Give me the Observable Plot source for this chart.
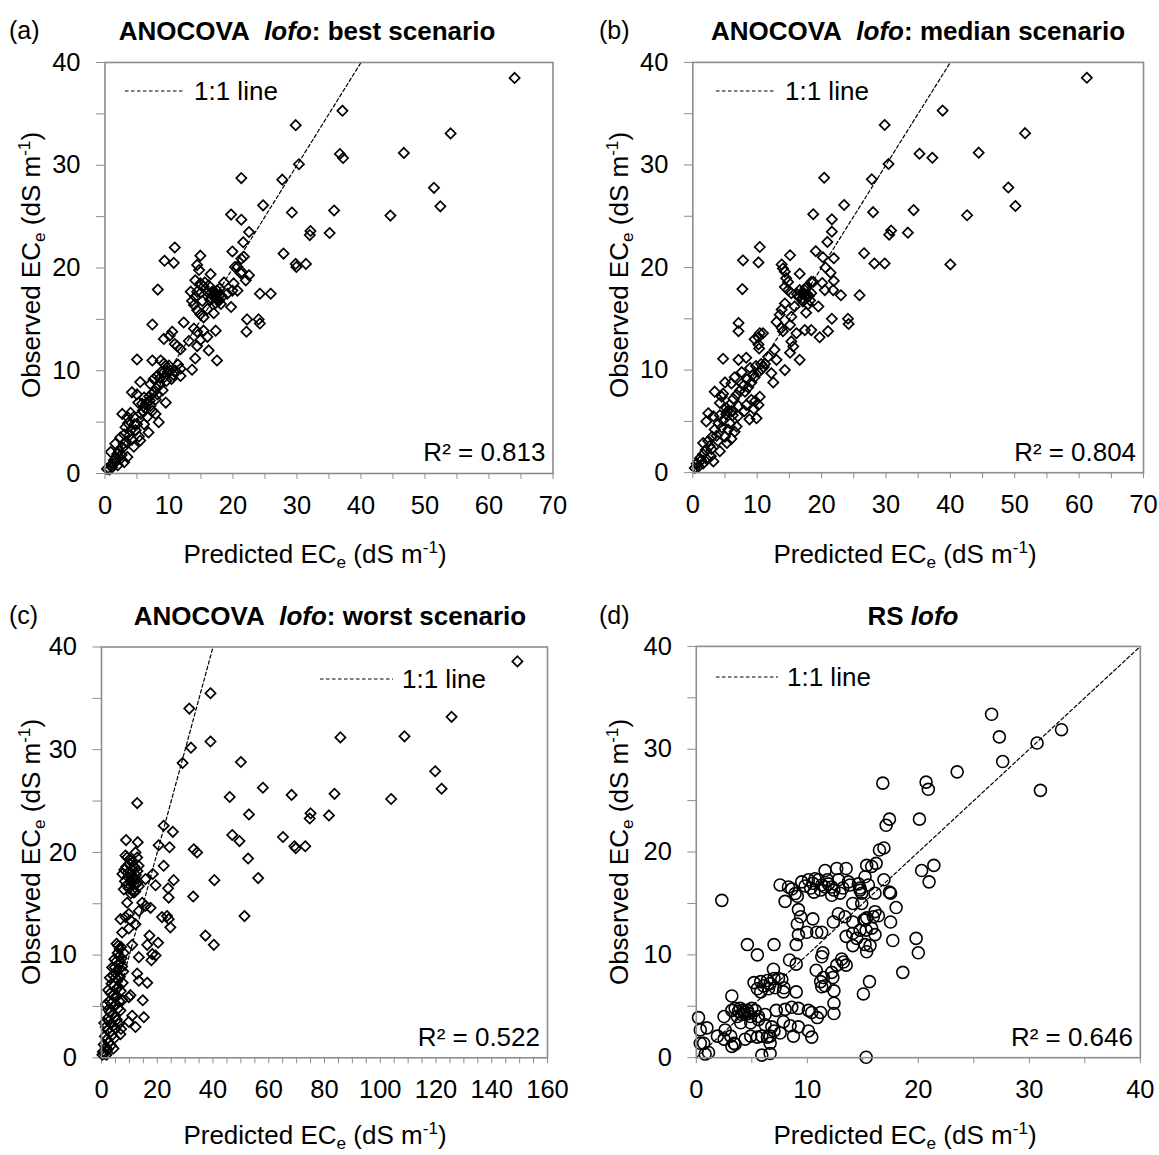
<!DOCTYPE html>
<html>
<head>
<meta charset="utf-8">
<script src="https://cdn.jsdelivr.net/npm/d3@7"></script>
<script src="https://cdn.jsdelivr.net/npm/@observablehq/plot@0.6"></script>
<style>
  body { margin: 0; background: #fff; font-family: "Liberation Sans", Arial, sans-serif; }
  #root { position: relative; width: 1159px; height: 1155px; overflow: hidden; background: #fff; }
  .svgwrap { position: absolute; }
  .txt { position: absolute; white-space: nowrap; color: #000; line-height: 1; }
  .letter { font-size: 25px; transform: translateY(-50%); }
  .ptitle { font-size: 26px; font-weight: bold; transform: translate(-50%, -50%); }
  .xtitle { font-size: 26px; transform: translate(-50%, -50%); }
  .ytitle { font-size: 26px; transform: translate(-50%, -50%) rotate(-90deg); }
  .legend { font-size: 26px; transform: translateY(-50%); display: flex; align-items: center; }
  sub { font-size: 0.66em; vertical-align: -0.3em; line-height: 0; }
  sup { font-size: 0.66em; vertical-align: 0.6em; line-height: 0; }
</style>
</head>
<body>
<div id="root"></div>
<script>
// ---------------- data ----------------
const panelLetters = ["(a)", "(b)", "(c)", "(d)"];
const panelTitles = [
  ["ANOCOVA\u00a0\u00a0", "lofo", ": best scenario"],
  ["ANOCOVA\u00a0\u00a0", "lofo", ": median scenario"],
  ["ANOCOVA\u00a0\u00a0", "lofo", ": worst scenario"],
  ["RS ", "lofo", ""]
];
const r2Labels = ["R² = 0.813", "R² = 0.804", "R² = 0.522", "R² = 0.646"];
const xMaxima = [70, 70, 160, 40];
const xLabelSteps = [10, 10, 20, 10];
const yTickValues = [0, 5, 10, 15, 20, 25, 30, 35, 40];
const oneToOne = [0, 40];

// (a) best scenario: predicted / observed
const aPred = [64.0,37.1,29.8,54.0,46.7,36.7,37.2,30.3,21.3,27.7,51.4,52.4,44.6,24.7,19.7,21.3,29.2,35.8,35.1,32.1,32.0,22.5,21.6,27.9,19.9,10.9,9.3,10.75,29.8,29.9,31.4,21.7,21.3,20.3,20.7,14.9,21.2,22.5,21.4,16.5,18.6,20.1,22.0,24.2,25.9,8.25,14.4,14.7,14.1,14.9,15.4,14.4,17.0,17.5,16.7,17.8,18.3,19.9,20.7,19.1,19.7,13.6,13.9,14.4,14.9,15.4,13.4,14.1,15.97,16.0,17.0,15.2,
  16.8,17.2,17.4,17.1,16.6,17.6,17.3,18.0,16.4,17.9,15.6,15.0,16.2,18.1,
  22.2,24.0,24.2,22.1,7.4,12.3,13.9,14.4,15.4,16.0,17.3,14.9,10.5,10.1,9.2,10.9,11.8,11.3,13.1,14.4,16.2,17.5,14.1,13.6,11.8,11.8,11.4,5.0,7.4,8.7,9.2,9.7,10.2,8.15,7.6,7.1,5.5,4.2,5.0,6.1,6.6,7.1,5.8,7.9,9.0,9.5,8.4,7.9,2.7,3.5,4.5,5.0,6.1,6.8,5.5,4.0,3.2,2.4,1.6,2.9,4.5,1.9,2.4,3.5,1.4,0.9,0.3,1.1,0.9,4.8,5.3,6.6,7.4,
  8.5,9.3,9.8,8.8,10.0,9.6,8.0,7.6,6.9,6.3,5.9,5.6,6.4,7.0,8.2,10.4,10.7,9.1,8.6,3.8,3.3,2.8,2.2,2.6,1.8,1.2,1.6,0.7,2.0,3.0,3.0,4.2,4.6,3.6,4.0,5.2,6.0,7.3,11.0];
const aObs = [38.5,35.3,33.9,33.1,31.2,31.1,30.7,30.1,28.75,28.6,27.8,26.0,25.1,26.1,25.2,24.7,25.4,25.6,23.4,23.6,23.2,23.5,22.5,21.4,21.6,22.0,20.7,20.5,20.4,20.1,20.4,21.1,20.9,20.1,20.1,21.2,19.5,19.3,19.6,19.4,18.6,18.5,18.8,17.5,17.5,17.9,20.3,19.8,18.8,18.5,18.2,17.7,17.5,17.8,17.0,16.8,17.2,17.8,17.8,17.5,16.2,16.8,16.4,15.9,15.5,15.2,17.7,17.2,17.7,16.0,15.6,16.8,
  17.3,17.1,17.4,17.7,17.6,17.0,16.6,17.4,16.9,18.0,18.6,17.6,18.3,16.5,
  15.0,15.0,14.6,13.8,14.5,14.7,14.1,13.8,13.9,13.3,13.9,13.0,13.8,13.4,13.1,12.6,12.1,12.4,12.9,12.4,11.98,11.0,11.2,10.1,10.2,9.5,10.6,11.1,11.0,11.0,10.7,10.3,10.0,9.5,9.2,8.7,8.9,7.9,7.7,7.4,6.9,6.6,6.8,7.2,8.1,6.9,5.0,5.8,5.8,5.5,5.5,4.8,4.8,4.0,3.2,4.2,4.5,3.5,2.9,2.9,2.6,1.9,1.4,1.6,1.3,0.8,0.45,0.6,2.1,4.2,3.6,5.5,6.1,
  8.6,9.4,9.9,9.9,10.5,9.0,8.3,7.9,7.5,6.4,6.1,5.8,6.8,7.1,7.7,9.2,9.6,9.8,9.3,3.7,3.1,2.5,2.2,1.8,1.5,0.9,1.1,0.4,0.8,1.1,3.8,3.3,4.8,4.9,5.9,6.9,6.0,7.7,10.0];

// (b) median scenario
const bPred = [61.2,38.8,29.8,51.6,44.4,35.2,37.2,30.4,20.4,27.8,49.0,50.1,42.6,23.5,18.7,21.6,28.0,34.3,33.4,30.8,30.5,21.6,20.9,26.6,19.1,10.4,7.8,10.2,28.2,29.8,40.0,20.2,21.9,20.6,15.1,21.4,21.9,16.6,18.4,20.1,23.0,25.9,7.7,13.8,14.0,14.3,14.5,14.8,14.3,14.8,15.3,16.9,17.6,17.4,18.2,18.7,20.5,21.8,19.5,17.6,15.8,14.3,13.8,13.5,13.0,15.3,15.1,
  17.0,17.3,17.8,16.6,18.0,17.1,17.9,16.5,18.4,17.5,16.2,
  17.4,18.4,19.7,21.0,21.6,24.1,24.2,7.1,7.1,13.8,14.0,16.1,15.3,15.6,15.1,16.6,14.3,12.7,13.0,10.2,9.6,10.4,10.9,10.2,10.3,11.7,11.2,10.7,10.2,9.6,9.1,8.6,8.1,12.5,12.2,4.7,7.1,8.3,8.9,7.6,6.5,5.0,6.0,7.6,3.4,4.5,4.7,4.2,5.2,6.0,7.1,8.3,9.1,10.2,9.9,8.8,10.4,2.4,2.1,3.2,4.2,4.7,5.8,6.5,6.0,5.0,3.4,3.9,4.2,2.4,1.6,2.9,1.6,1.1,0.6,0.3,1.6,3.2,
  9.8,10.6,11.0,9.4,8.4,7.9,7.3,6.8,6.3,5.7,5.4,5.2,6.2,7.0,5.5,4.5,3.7,3.0,2.6,2.0,1.3,0.9,2.2,2.8,8.0,9.5,9.7,6.8,5.3,4.0];
const bObs = [38.5,35.3,33.9,33.1,31.2,31.1,30.7,30.1,28.75,28.6,27.8,26.0,25.1,26.1,25.2,24.7,25.4,25.6,23.4,23.6,23.2,23.5,22.5,21.4,21.6,22.0,20.7,20.5,20.4,20.4,20.3,21.0,20.9,20.0,21.2,19.5,18.7,19.4,18.6,18.5,17.3,17.3,17.9,20.3,19.9,19.6,18.96,18.6,18.1,17.8,17.5,17.5,17.2,17.8,16.8,18.6,17.8,17.8,16.2,15.6,16.2,16.5,15.9,15.4,14.7,15.2,14.4,
  17.0,17.5,17.4,17.8,17.2,16.7,16.4,17.1,17.5,18.0,17.4,
  13.9,13.9,13.2,13.8,15.0,15.0,14.5,14.6,13.8,14.1,13.8,13.6,12.8,12.3,11.7,11.0,10.0,11.98,11.0,13.2,13.0,13.6,13.6,12.5,12.1,11.3,10.6,10.1,9.8,9.3,8.8,8.3,7.9,8.8,9.7,11.1,11.0,11.2,10.2,9.8,9.3,8.8,8.7,8.7,7.9,7.4,7.7,6.8,6.3,6.0,6.5,6.6,7.1,6.6,5.3,5.2,7.4,5.8,5.0,5.5,5.6,5.1,4.8,4.0,3.3,3.5,4.2,3.1,2.1,3.1,2.9,2.3,1.8,1.4,0.9,0.45,0.9,1.1,
  10.4,10.6,10.3,9.6,9.1,8.5,8.0,7.6,7.2,6.6,6.0,5.7,5.6,5.5,4.2,4.4,3.6,3.5,2.6,2.2,1.2,0.6,1.3,1.6,6.0,6.2,7.0,4.5,2.9,4.8];

// (c) worst scenario
const cPred = [149.2,39.1,31.5,125.6,85.7,108.7,39.1,32.1,29.1,50.0,119.7,122.0,57.9,46.0,68.2,83.6,103.9,12.8,52.9,75.0,74.7,81.6,22.3,25.6,46.9,49.5,65.1,69.2,69.7,73.1,33.1,34.3,52.6,8.8,13.0,20.5,24.4,8.6,12.2,12.8,22.3,18.4,15.8,25.9,56.2,40.5,19.4,23.9,24.1,32.9,51.3,
  7.5,8.2,8.9,9.5,10.1,10.6,11.2,11.8,12.3,12.9,9.0,9.8,10.4,11.0,11.6,12.1,12.8,8.4,10.0,11.4,13.3,9.4,10.8,11.9,8.0,9.2,10.5,13.4,
  11.6,9.2,14.6,15.8,17.6,13.4,9.8,6.8,8.6,10.4,12.2,21.7,23.5,24.1,24.7,7.4,9.8,11.0,17.2,16.4,20.3,18.2,19.4,17.9,13.4,37.3,40.3,12.8,13.4,16.4,10.4,14.8,9.8,11.0,15.2,9.8,12.2,6.8,6.8,
  6.0,6.5,7.0,5.8,6.4,7.2,5.3,6.0,6.8,4.8,5.5,6.3,7.4,4.2,5.0,5.8,6.6,7.6,3.6,4.4,5.2,6.1,6.9,3.2,4.0,4.8,5.6,6.4,2.8,3.5,4.3,5.1,5.9,2.4,3.1,3.9,4.7,5.5,2.0,2.7,3.4,4.2,5.0,1.5,2.2,3.0,3.8,4.6,1.2,1.9,2.6,3.4,4.3,0.8,1.5,2.2,0.5,1.0,1.8,6.2,7.0,7.5,3.0,2.4,1.6,1.0,8.0,7.8,5.4,4.6,3.8,0.3];
const cObs = [38.6,35.5,34.0,33.2,31.2,31.3,30.8,30.2,28.7,28.8,27.9,26.2,26.3,25.4,25.6,25.7,25.2,24.8,23.7,23.8,23.3,23.6,22.6,22.0,21.7,21.1,21.5,20.6,20.4,20.6,20.3,20.0,19.4,21.2,21.0,20.7,20.5,19.7,20.0,19.5,18.7,17.9,17.4,17.3,17.5,17.3,16.8,16.5,15.6,15.7,13.8,
  17.9,18.3,18.6,17.6,18.9,18.0,17.4,18.6,17.8,18.2,16.8,16.5,17.1,16.3,16.9,16.2,17.0,17.2,19.3,19.1,18.7,18.0,17.7,17.5,16.4,19.5,16.0,16.7,
  16.1,15.1,15.1,14.8,14.6,14.3,14.0,13.5,13.7,13.4,13.0,13.7,13.8,13.5,12.7,12.2,12.6,11.0,11.9,11.0,11.2,10.1,9.96,9.5,9.8,11.9,11.0,8.2,7.5,7.3,6.1,5.6,5.9,4.1,3.96,3.5,3.0,4.6,2.3,
  10.9,10.6,10.8,10.2,9.9,9.7,9.4,9.1,9.3,8.8,8.5,8.6,8.9,8.0,7.8,7.6,7.9,7.3,7.2,7.0,6.7,6.9,6.5,6.3,6.1,5.9,6.0,5.5,5.5,5.3,5.0,5.2,4.8,4.7,4.4,4.2,4.0,3.7,3.8,3.6,3.3,3.1,2.9,3.0,2.7,2.5,2.2,1.9,2.1,1.8,1.5,1.2,0.9,1.3,1.0,0.8,0.6,0.4,0.3,3.3,2.8,5.6,7.8,6.6,5.2,3.4,10.2,8.4,11.1,9.6,8.8,0.3];

// (d) RS lofo
const dPred = [26.6,32.9,27.3,30.7,27.6,23.5,31.0,16.8,20.7,20.9,20.1,17.4,17.1,16.5,16.9,15.35,15.8,16.2,20.3,21.4,20.97,15.2,15.5,16.9,14.75,14.9,16.1,17.4,17.5,14.9,18.0,16.1,16.4,15.95,15.35,15.2,17.5,14.75,15.8,16.1,17.7,19.8,20.0,15.65,15.35,18.6,15.6,15.05,15.3,
  2.3,4.6,5.5,7.0,7.55,8.0,8.3,8.6,8.9,9.1,9.5,9.8,10.1,10.5,10.6,10.7,11.0,11.3,11.6,11.6,12.2,12.65,12.8,12.95,13.5,13.7,13.85,12.2,14.1,14.6,14.75,11.9,12.4,11.2,10.3,11.8,13.2,
  9.2,9.4,9.1,9.95,10.5,10.85,11.3,9.0,9.2,8.4,9.0,11.4,11.3,12.35,12.8,13.4,14.1,13.5,14.1,14.45,15.1,15.3,15.2,14.1,13.1,13.25,13.5,12.65,12.2,12.3,11.45,11.3,11.6,12.4,12.4,10.8,11.2,6.95,
  5.2,5.8,6.4,7.0,7.4,7.7,6.65,7.1,7.9,3.2,5.5,5.8,6.05,6.5,7.85,9.0,2.5,3.2,3.5,3.95,4.25,4.6,5.0,5.3,3.7,4.1,4.4,4.9,5.6,6.2,4.0,4.9,5.6,6.2,6.8,7.2,8.0,8.6,9.2,10.1,10.4,10.9,11.2,7.85,8.45,9.2,10.1,10.4,7.0,7.55,8.75,6.65,
  0.2,0.36,0.96,0.66,0.36,1.1,0.8,1.9,2.5,3.1,3.4,2.6,4.4,4.9,5.5,5.9,6.4,6.65,5.9,6.65,3.2,3.5,4.3,4.7,3.8,12.4];
const dObs = [33.4,31.9,31.2,30.6,28.8,27.8,26.0,26.7,26.8,26.1,23.2,23.2,22.6,20.2,20.4,18.7,18.6,18.9,18.2,18.7,17.1,17.6,16.8,17.3,16.5,16.0,16.0,16.1,16.0,15.0,14.6,14.2,13.8,13.7,13.6,13.4,13.2,12.4,12.6,11.97,11.4,11.6,10.2,10.9,10.3,8.3,7.4,6.2,0.04,
  15.3,11.0,10.0,11.0,16.8,15.2,16.6,16.4,15.96,15.7,17.1,16.7,17.3,16.96,16.1,17.4,17.3,16.8,18.2,16.6,16.6,18.4,17.3,16.0,18.4,17.1,16.8,15.8,15.0,16.9,16.3,16.9,16.3,16.3,16.5,17.3,16.5,
  14.4,13.7,13.0,12.2,13.5,12.2,12.2,11.0,11.95,9.5,9.1,10.2,9.82,13.2,14.0,13.7,13.2,11.8,12.1,11.6,13.4,12.4,11.0,10.9,9.6,9.3,9.0,9.0,8.3,7.8,7.8,6.9,7.0,6.5,5.3,8.5,7.4,8.6,
  7.3,7.4,7.5,7.7,7.7,7.6,7.2,6.8,6.8,6.0,6.7,6.4,7.0,6.7,6.4,6.4,4.0,4.6,4.8,4.8,4.6,4.6,4.8,4.6,4.0,4.2,4.2,4.0,4.0,4.2,3.4,3.4,3.7,3.2,3.0,4.6,4.7,4.9,4.8,4.6,4.4,3.9,4.4,3.5,3.1,3.0,2.6,2.0,2.6,2.4,2.1,2.1,
  3.9,2.7,2.9,1.4,1.4,0.5,0.35,2.1,1.8,2.1,1.4,2.7,1.8,2.1,2.0,2.1,2.0,1.4,0.25,0.4,1.1,1.3,4.4,4.3,4.5,4.3];

const series = [[aPred, aObs], [bPred, bObs], [cPred, cObs], [dPred, dObs]];

// ---------------- layout (positions / styles) ----------------
const layout = [
  {left: 0,   top: 0,   h: 580, mL: 104.5, mR: 27.5, mT: 62,   mB: 107,  symbol: "diamond2",
   letterX: 9,   letterY: 30,  titleX: 307, titleY: 31,  xtX: 315, xtY: 554,  ytX: 31,  ytY: 265,
   legX: 125, legY: 91, legW: 60},
  {left: 580, top: 0,   h: 580, mL: 112.5, mR: 16,   mT: 62,   mB: 107,  symbol: "diamond2",
   letterX: 599, letterY: 30, titleX: 918, titleY: 31,  xtX: 905, xtY: 554,  ytX: 619, ytY: 265,
   legX: 716, legY: 91, legW: 60},
  {left: 0,   top: 585, h: 570, mL: 101,   mR: 33,   mT: 61.5, mB: 97.7, symbol: "diamond2",
   letterX: 9,   letterY: 615, titleX: 330, titleY: 616, xtX: 315, xtY: 1135, ytX: 31,  ytY: 852,
   legX: 320, legY: 679, legW: 73},
  {left: 580, top: 585, h: 570, mL: 116,   mR: 19.2, mT: 61,   mB: 97,   symbol: "circle",
   letterX: 599, letterY: 615, titleX: 913, titleY: 616, xtX: 905, xtY: 1135, ytX: 619, ytY: 852,
   legX: 716, legY: 677, legW: 62}
];

const root = document.getElementById("root");
const gray = "#8c8c8c";

function addDiv(cls, x, y, html) {
  const d = document.createElement("div");
  d.className = "txt " + cls;
  d.style.left = x + "px";
  d.style.top = y + "px";
  d.innerHTML = html;
  root.appendChild(d);
  return d;
}

series.forEach(([pred, obs], i) => {
  const L = layout[i];
  const xmax = xMaxima[i];
  const step = xLabelSteps[i];
  const xTicks = d3.range(0, xmax + 0.001, 5);
  const pts = pred.map((p, k) => ({pred: p, obs: obs[k]}));
  const line11 = oneToOne.map(v => ({pred: v, obs: v}));

  const dotOpts = L.symbol === "circle"
    ? {x: "pred", y: "obs", r: 6, stroke: "#000", strokeWidth: 1.6, fill: "none"}
    : {x: "pred", y: "obs", symbol: "diamond2", r: 4.6, stroke: "#000", strokeWidth: 1.7, fill: "none"};

  const chart = Plot.plot({
    width: 580,
    height: L.h,
    marginLeft: L.mL, marginRight: L.mR, marginTop: L.mT, marginBottom: L.mB,
    style: {fontFamily: "'Liberation Sans', Arial, sans-serif", fontSize: "25.5px", color: "#000", background: "transparent", overflow: "visible"},
    x: {domain: [0, xmax], label: null},
    y: {domain: [0, 40], label: null},
    marks: [
      Plot.axisX({ticks: xTicks, tickFormat: d => (d % step === 0 ? String(d) : ""), tickSize: 6, tickPadding: 16,
                  stroke: gray, fill: "#000", fontSize: 25.5, label: null}),
      Plot.axisY({ticks: yTickValues, tickFormat: d => (d % 10 === 0 ? String(d) : ""), tickSize: 8.5, tickPadding: 16,
                  stroke: gray, fill: "#000", fontSize: 25.5, label: null}),
      Plot.line(line11, {x: "pred", y: "obs", stroke: "#000", strokeWidth: 1.2, strokeDasharray: "3.5,2.5", clip: true}),
      Plot.dot(pts, dotOpts),
      Plot.frame({stroke: gray, strokeWidth: 1.6}),
      Plot.text([r2Labels[i]], {text: d => d, frameAnchor: "bottom-right", textAnchor: "end", lineAnchor: "middle",
                 dx: -7.5, dy: -20.5, fontSize: 26, fill: "#000"})
    ]
  });
  const wrap = document.createElement("div");
  wrap.className = "svgwrap";
  wrap.style.left = L.left + "px";
  wrap.style.top = L.top + "px";
  wrap.appendChild(chart);
  root.appendChild(wrap);

  // panel letter and title
  addDiv("letter", L.letterX, L.letterY, panelLetters[i]);
  const t = panelTitles[i];
  addDiv("ptitle", L.titleX, L.titleY, `${t[0]}<i>${t[1]}</i>${t[2]}`);

  // axis titles
  addDiv("xtitle", L.xtX, L.xtY, "Predicted EC<sub>e</sub> (dS m<sup>-1</sup>)");
  addDiv("ytitle", L.ytX, L.ytY, "Observed EC<sub>e</sub> (dS m<sup>-1</sup>)");

  // legend: dashed sample + label
  addDiv("legend", L.legX, L.legY,
    `<svg width="${L.legW}" height="6" style="margin-right:9px"><line x1="0" y1="3" x2="${L.legW}" y2="3" stroke="#000" stroke-width="1.2" stroke-dasharray="3.5,2.5"/></svg><span>1:1 line</span>`);
});
</script>
</body>
</html>
